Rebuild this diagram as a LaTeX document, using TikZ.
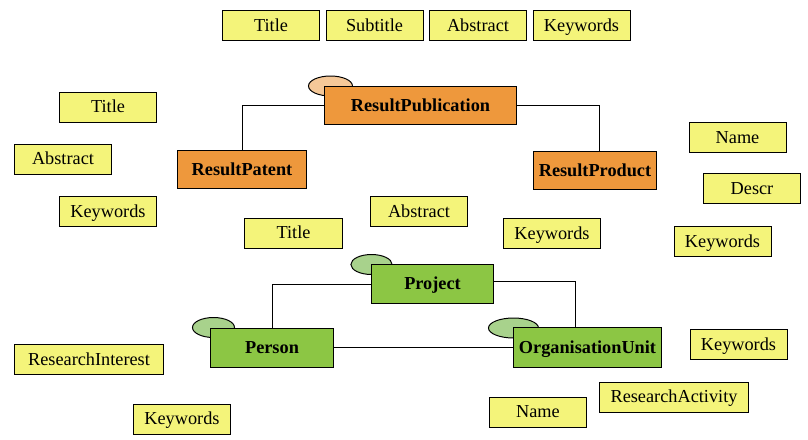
\documentclass[tikz,border=0pt]{standalone}
\usepackage{fontspec}
\setmainfont{Liberation Serif}
\usetikzlibrary{shapes.geometric, backgrounds}

\definecolor{attrfill}{RGB}{244,244,122}
\definecolor{resfill}{RGB}{238,152,60}
\definecolor{resoval}{RGB}{245,200,152}
\definecolor{orgfill}{RGB}{140,198,68}
\definecolor{orgoval}{RGB}{168,210,140}

\begin{document}
\begin{tikzpicture}[
  x=0.025cm, y=-0.025cm,
  font=\fontsize{13}{15}\selectfont,
  attr/.style={
    draw=black, fill=attrfill, line width=0.7pt, inner sep=0pt,
    text height=10.5pt, text depth=2pt,
    minimum width=2.425cm, minimum height=0.75cm
  },
  wide/.style={attr, minimum width=3.7cm},
  entity/.style={
    draw=black, line width=0.7pt, inner sep=0pt,
    text height=10.5pt, text depth=2pt,
    minimum height=0.95cm, font=\fontsize{13}{15}\selectfont\bfseries
  },
  result/.style={entity, fill=resfill},
  core/.style={entity, fill=orgfill},
  oval/.style={
    ellipse, draw=black, line width=0.7pt, inner sep=0pt,
    minimum width=1.1cm, minimum height=0.5cm
  },
  link/.style={draw=black, line width=0.6pt},
]
\useasboundingbox (0,0) rectangle (808,440);

% result entities
\node[result, minimum width=4.775cm] (pub)     at (420.5,105.5) {ResultPublication};
\node[result, minimum width=3.2cm]   (patent)  at (242,169.5)   {ResultPatent};
\node[result, minimum width=3.05cm]  (product) at (595,170.5)   {ResultProduct};

% project, person, organisation
\node[core, minimum width=3.025cm, minimum height=0.975cm] (project) at (432.5,283.5) {Project};
\node[core, minimum width=3.05cm,  minimum height=0.975cm] (person)  at (272,347.5)   {Person};
\node[core, minimum width=3.675cm, minimum height=1cm]     (orgunit) at (587.5,347.5) {OrganisationUnit};

% ovals behind the entities
\begin{scope}[on background layer]
  \node[oval, fill=resoval] (pub-o)     at ([xshift=0.15cm]pub.north west) {};
  \node[oval, fill=orgoval, minimum width=1.03cm] (project-o) at ([yshift=-0.025cm]project.north west) {};
  \node[oval, fill=orgoval, minimum width=1.05cm] (person-o)  at ([xshift=0.075cm]person.north west) {};
  \node[oval, fill=orgoval, minimum width=1.25cm] (orgunit-o) at ([yshift=-0.025cm]orgunit.north west) {};
\end{scope}

% connectors
\draw[link] (pub.west) -| (patent.north);
\draw[link] (pub.east) -| ([xshift=0.1cm]product.north);
\draw[link] ([yshift=-0.025cm]project.west) -| (person.north);
\draw[link] ([yshift=0.05cm]project.east) -| ([xshift=-0.29cm]orgunit.north);
\draw[link] (person.east) -- (person.east -| orgunit.west);

% publication attributes
\node[attr] (pub-title)    at (271,25.5)   {Title};
\node[attr] (pub-subtitle) at (374.5,25.5) {Subtitle};
\node[attr] (pub-abstract) at (478,25.5)   {Abstract};
\node[attr] (pub-keywords) at (581.5,25.5) {Keywords};

% patent attributes
\node[attr] (pat-title)    at (108,107)   {Title};
\node[attr] (pat-abstract) at (63,159)    {Abstract};
\node[attr] (pat-keywords) at (108,211.5) {Keywords};

% project attributes
\node[attr] (prj-title)    at (293.5,233)   {Title};
\node[attr] (prj-abstract) at (419,211.5)   {Abstract};
\node[attr] (prj-keywords) at (552,233.5)   {Keywords};

% product attributes
\node[attr] (prd-name)     at (737.5,137.5) {Name};
\node[attr] (prd-descr)    at (752,188.5)   {Descr};
\node[attr] (prd-keywords) at (722.5,241.5) {Keywords};

% person attributes
\node[wide] (per-interest) at (89,359.5) {ResearchInterest};
\node[attr] (per-keywords) at (182,419)  {Keywords};

% organisation attributes
\node[attr] (org-keywords) at (738.5,344.5) {Keywords};
\node[attr] (org-name)     at (538,412)     {Name};
\node[wide] (org-activity) at (674,397)     {ResearchActivity};

\end{tikzpicture}
\end{document}
